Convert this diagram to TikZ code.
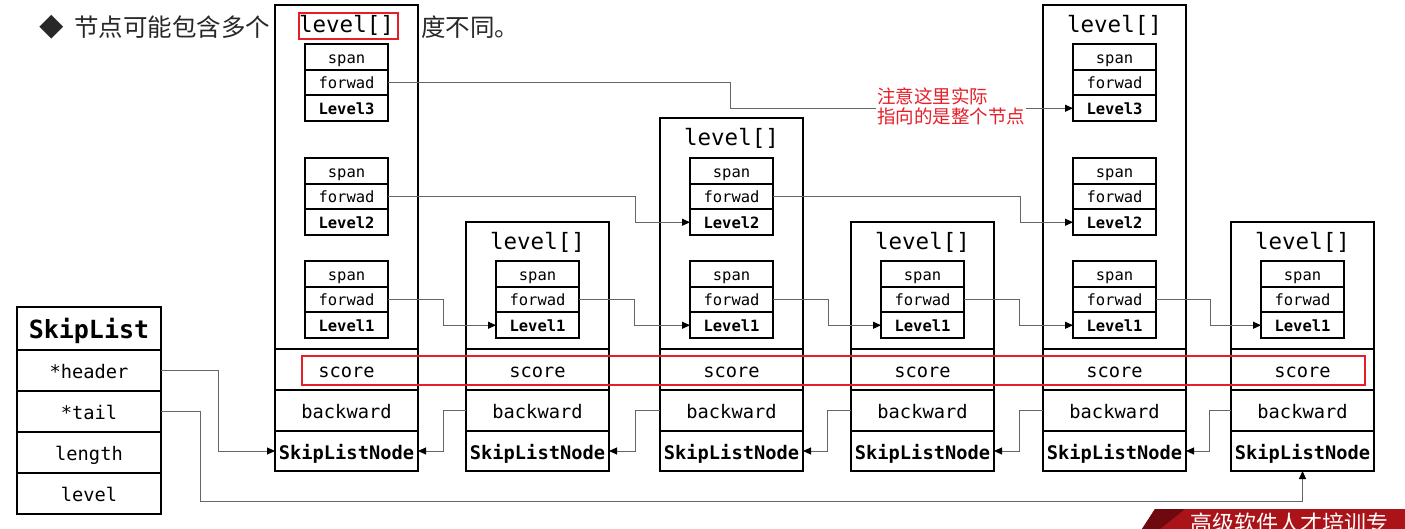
\documentclass[tikz,border=0pt]{standalone}
\usepackage{fontspec}
\setmonofont{DejaVu Sans Mono}
\newfontfamily\cjk{Noto Sans CJK SC}
\usetikzlibrary{arrows.meta}
\definecolor{annred}{RGB}{230,30,40}
\definecolor{titlegray}{RGB}{40,40,40}
\definecolor{bannerred}{RGB}{170,20,25}
\definecolor{bannerdark}{RGB}{110,10,15}
\newcommand\bodyfont{\ttfamily\fontsize{18.7}{20}\selectfont}
\newcommand\bodybold{\ttfamily\bfseries\fontsize{18.7}{20}\selectfont}
\newcommand\cellfont{\ttfamily\fontsize{15.5}{16}\selectfont}
\newcommand\cellbold{\ttfamily\bfseries\fontsize{15.5}{16}\selectfont}
\newcommand\levfont{\ttfamily\fontsize{22.5}{24}\selectfont}
\newcommand\sltitlefont{\ttfamily\bfseries\fontsize{25}{26}\selectfont}
\tikzset{
  outer/.style={draw=black, fill=white, line width=2.2pt, inner sep=0pt, outer sep=0pt, anchor=north west, minimum width=143pt, text height=16pt, text depth=0pt},
  slbox/.style={draw=black, fill=white, line width=2.2pt, inner sep=0pt, outer sep=0pt, anchor=north west, minimum width=144pt, font=\bodyfont, text height=16pt, text depth=0pt},
  cell/.style={draw=black, fill=white, line width=2pt, inner sep=0pt, outer sep=0pt, minimum width=83pt, minimum height=25.7pt, anchor=north, font=\cellfont, text height=13pt, text depth=0.5pt},
  lvlcell/.style={cell, font=\cellbold},
  link/.style={draw=black!60, line width=1pt, -{Triangle[length=8pt,width=7pt,color=black]}},
  redbox/.style={draw=annred, line width=1.5pt, inner sep=0pt, outer sep=0pt, anchor=north west},
  titletext/.style={font=\cjk\fontsize{24.5}{26}\selectfont, text=titlegray, anchor=west, inner sep=0pt},
}
\newcommand\mkcol[3]{%
  \node[outer, minimum height={(349-#3)*1pt}] (#1lev) at (#2,#3) {};
  \node[outer, minimum height=41pt, font=\bodyfont] (#1score) at (#2,349) {score};
  \node[outer, minimum height=41pt, font=\bodyfont] (#1back) at (#2,390) {backward};
  \node[outer, minimum height=40pt, font=\bodybold] (#1node) at (#2,431) {SkipListNode};
  \node[font=\levfont, inner sep=0pt] (#1lab) at ({#2+71.5},{#3+20}) {level[]};
}
\newcommand\mklvl[4]{%
  \node[cell] (#1s#2) at (#3,#4) {span};
  \node[cell] (#1f#2) at (#1s#2.south) {forwad};
  \node[lvlcell] (#1l#2) at (#1f#2.south) {Level#2};
}
\begin{document}
\begin{tikzpicture}[x=1pt,y=-1pt]
\useasboundingbox (0,0) rectangle (1405,529);
\fill[white] (0,0) rectangle (1405,529);

% title line
\node[titletext] (bullet) at (39,27) {◆};
\node[titletext] (title1) at (74,27) {节点可能包含多个};
\node[titletext] (title2) at (421,27) {度不同。};

% columns
\mkcol{c1}{275}{5}
\mkcol{c2}{466}{222}
\mkcol{c3}{660}{118}
\mkcol{c4}{851}{222}
\mkcol{c5}{1043}{5}
\mkcol{c6}{1231}{222}

% level groups
\mklvl{c1}{3}{346.5}{44}
\mklvl{c1}{2}{346.5}{158}
\mklvl{c1}{1}{346.5}{261}
\mklvl{c2}{1}{537.5}{261}
\mklvl{c3}{2}{731.5}{158}
\mklvl{c3}{1}{731.5}{261}
\mklvl{c4}{1}{922.5}{261}
\mklvl{c5}{3}{1114.5}{44}
\mklvl{c5}{2}{1114.5}{158}
\mklvl{c5}{1}{1114.5}{261}
\mklvl{c6}{1}{1302.5}{261}

% SkipList struct
\node[slbox, minimum height=43pt, font=\sltitlefont, text height=21pt, text depth=0.5pt] (sltitle) at (17,307) {SkipList};
\node[slbox, minimum height=41pt] (slheader) at (17,350) {*header};
\node[slbox, minimum height=41pt] (sltail) at (17,391) {*tail};
\node[slbox, minimum height=41pt] (sllength) at (17,432) {length};
\node[slbox, minimum height=41pt] (sllevel) at (17,473) {level};

% forward links level 1
\draw[link] (c1f1.east) -- ++(55,0) |- (c2l1.west);
\draw[link] (c2f1.east) -- ++(55,0) |- (c3l1.west);
\draw[link] (c3f1.east) -- ++(55,0) |- (c4l1.west);
\draw[link] (c4f1.east) -- ++(55,0) |- (c5l1.west);
\draw[link] (c5f1.east) -- ++(54,0) |- (c6l1.west);
% level 2
\draw[link] (c1f2.east) -- ++(247,0) |- (c3l2.west);
\draw[link] (c3f2.east) -- ++(247,0) |- (c5l2.west);
% level 3
\draw[link] (c1f3.east) -- ++(342,0) |- (c5l3.west);

% backward links
\draw[link] (c2back.west) -- ++(-23,0) |- (c1node.east);
\draw[link] (c3back.west) -- ++(-25,0) |- (c2node.east);
\draw[link] (c4back.west) -- ++(-24,0) |- (c3node.east);
\draw[link] (c5back.west) -- ++(-24,0) |- (c4node.east);
\draw[link] (c6back.west) -- ++(-22,0) |- (c5node.east);

% header / tail
\draw[link] (slheader.east) -- ++(57,0) |- (c1node.west);
\coordinate (tailturn) at (1302.5,501);
\draw[link] (sltail.east) -- ++(39,0) |- (tailturn) -- (c6node.south);

% red highlight boxes
\node[redbox, minimum width=99pt, minimum height=26pt] (levbox) at (299,13) {};
\node[redbox, minimum width=1063pt, minimum height=29pt] (scorebox) at (302,356) {};

% annotation
\node[font=\cjk\fontsize{18.5}{20}\selectfont, text=annred, fill=white, align=left, anchor=north west, inner sep=1pt] (note) at (876,87) {注意这里实际\\指向的是整个节点};

% watermark banner
\begin{scope}
\clip (0,0) rectangle (1405,529);
\fill[bannerred] (1155,509) -- (1405,509) -- (1405,529) -- (1142,529) -- cycle;
\fill[bannerdark] (1155,509) -- (1185,509) -- (1160,529) -- (1142,529) -- cycle;
\node[font=\cjk\fontsize{22}{24}\selectfont, text=white, anchor=north west, inner sep=0pt] (banner) at (1190,513) {高级软件人才培训专};
\end{scope}
\end{tikzpicture}
\end{document}
